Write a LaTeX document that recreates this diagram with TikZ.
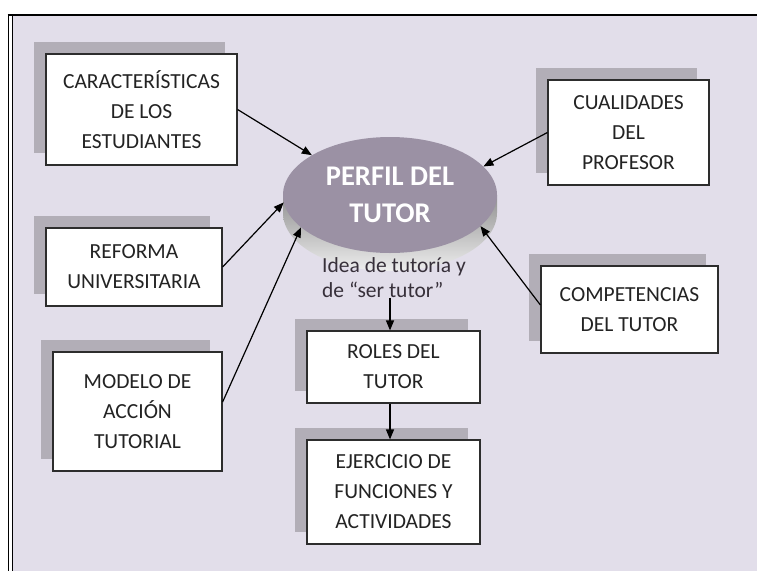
\documentclass[tikz,border=0pt]{standalone}
\usepackage{fontspec}
\setmainfont{Carlito}
\usetikzlibrary{shapes.geometric,shadows,arrows.meta}
\definecolor{bgc}{RGB}{226,222,234}
\definecolor{shc}{RGB}{178,174,183}
\definecolor{elc}{RGB}{155,145,164}
\definecolor{boxc}{RGB}{45,45,45}
\definecolor{txtc}{RGB}{35,35,35}
\definecolor{ideac}{RGB}{55,48,58}
\begin{document}
\begin{tikzpicture}[x=1pt,y=-1pt,
  box/.style={draw=boxc, line width=1.2pt, fill=white, align=center, text=txtc,
    font=\fontsize{21.5}{30}\selectfont, inner sep=0pt,
    general shadow={shadow xshift=-12pt, shadow yshift=12pt, fill=shc}},
  arr/.style={-{Triangle[length=10pt,width=8pt]}, line width=1.2pt, black}]
\useasboundingbox (0,0) rectangle (757,570);
\fill[white] (-5,-5) rectangle (765,575);
\fill[bgc] (12,15) rectangle (765,575);
\draw[line width=2pt] (7.5,14.5) -- (765,14.5);
\draw[line width=1.5pt] (8.5,14) -- (8.5,575);
\draw[line width=1.2pt] (12.5,15.5) -- (12.5,575);

% 3D side of the disc
\shade[top color={rgb,255:red,145;green,145;blue,145}, bottom color={rgb,255:red,238;green,238;blue,238}]
  (283,195) -- (283,213) arc[start angle=180, end angle=360, x radius=107pt, y radius=58pt] -- (497,195) -- cycle;
\node[ellipse, fill=elc, minimum width=214pt, minimum height=116pt, inner sep=0pt,
  text=white, align=center, font=\fontsize{28.5}{37}\selectfont\bfseries] (el) at (390,195) {PERFIL DEL\\TUTOR};

\node[anchor=west, align=left, inner sep=0pt, text=ideac, font=\fontsize{21.5}{25}\selectfont] (idea) at (322,277.5) {Idea de tutoría y\\de “ser tutor”};

\node[box, minimum width=191pt, minimum height=111pt] (b1) at (141.5,109.5) {CARACTERÍSTICAS\\DE LOS\\ESTUDIANTES};
\node[box, minimum width=176pt, minimum height=78pt] (b2) at (134,267) {REFORMA\\UNIVERSITARIA};
\node[box, minimum width=169pt, minimum height=119pt] (b3) at (137.5,411.5) {MODELO DE\\ACCIÓN\\TUTORIAL};
\node[box, minimum width=161pt, minimum height=105pt] (b4) at (628.5,132.5) {CUALIDADES\\DEL\\PROFESOR};
\node[box, minimum width=177pt, minimum height=87pt] (b5) at (629.5,309.5) {COMPETENCIAS\\DEL TUTOR};
\node[box, minimum width=173pt, minimum height=72pt] (b6) at (393.5,367) {ROLES DEL\\TUTOR};
\node[box, minimum width=173pt, minimum height=104pt] (b7) at (393.5,492) {EJERCICIO DE\\FUNCIONES Y\\ACTIVIDADES};

\draw[arr] (b1.east) -- (el.153);
\draw[arr] (b2.east) -- (el.184);
\draw[arr] ([yshift=9.5pt]b3.east) -- (el.200);
\draw[arr] (b4.west) -- (el.17);
\draw[arr] ([yshift=4.5pt]b5.west) -- (el.341);
\draw[arr] (idea.south -| el.center) -- (b6.north -| el.center);
\draw[arr] (b6.south -| el.center) -- (b7.north -| el.center);
\end{tikzpicture}
\end{document}
